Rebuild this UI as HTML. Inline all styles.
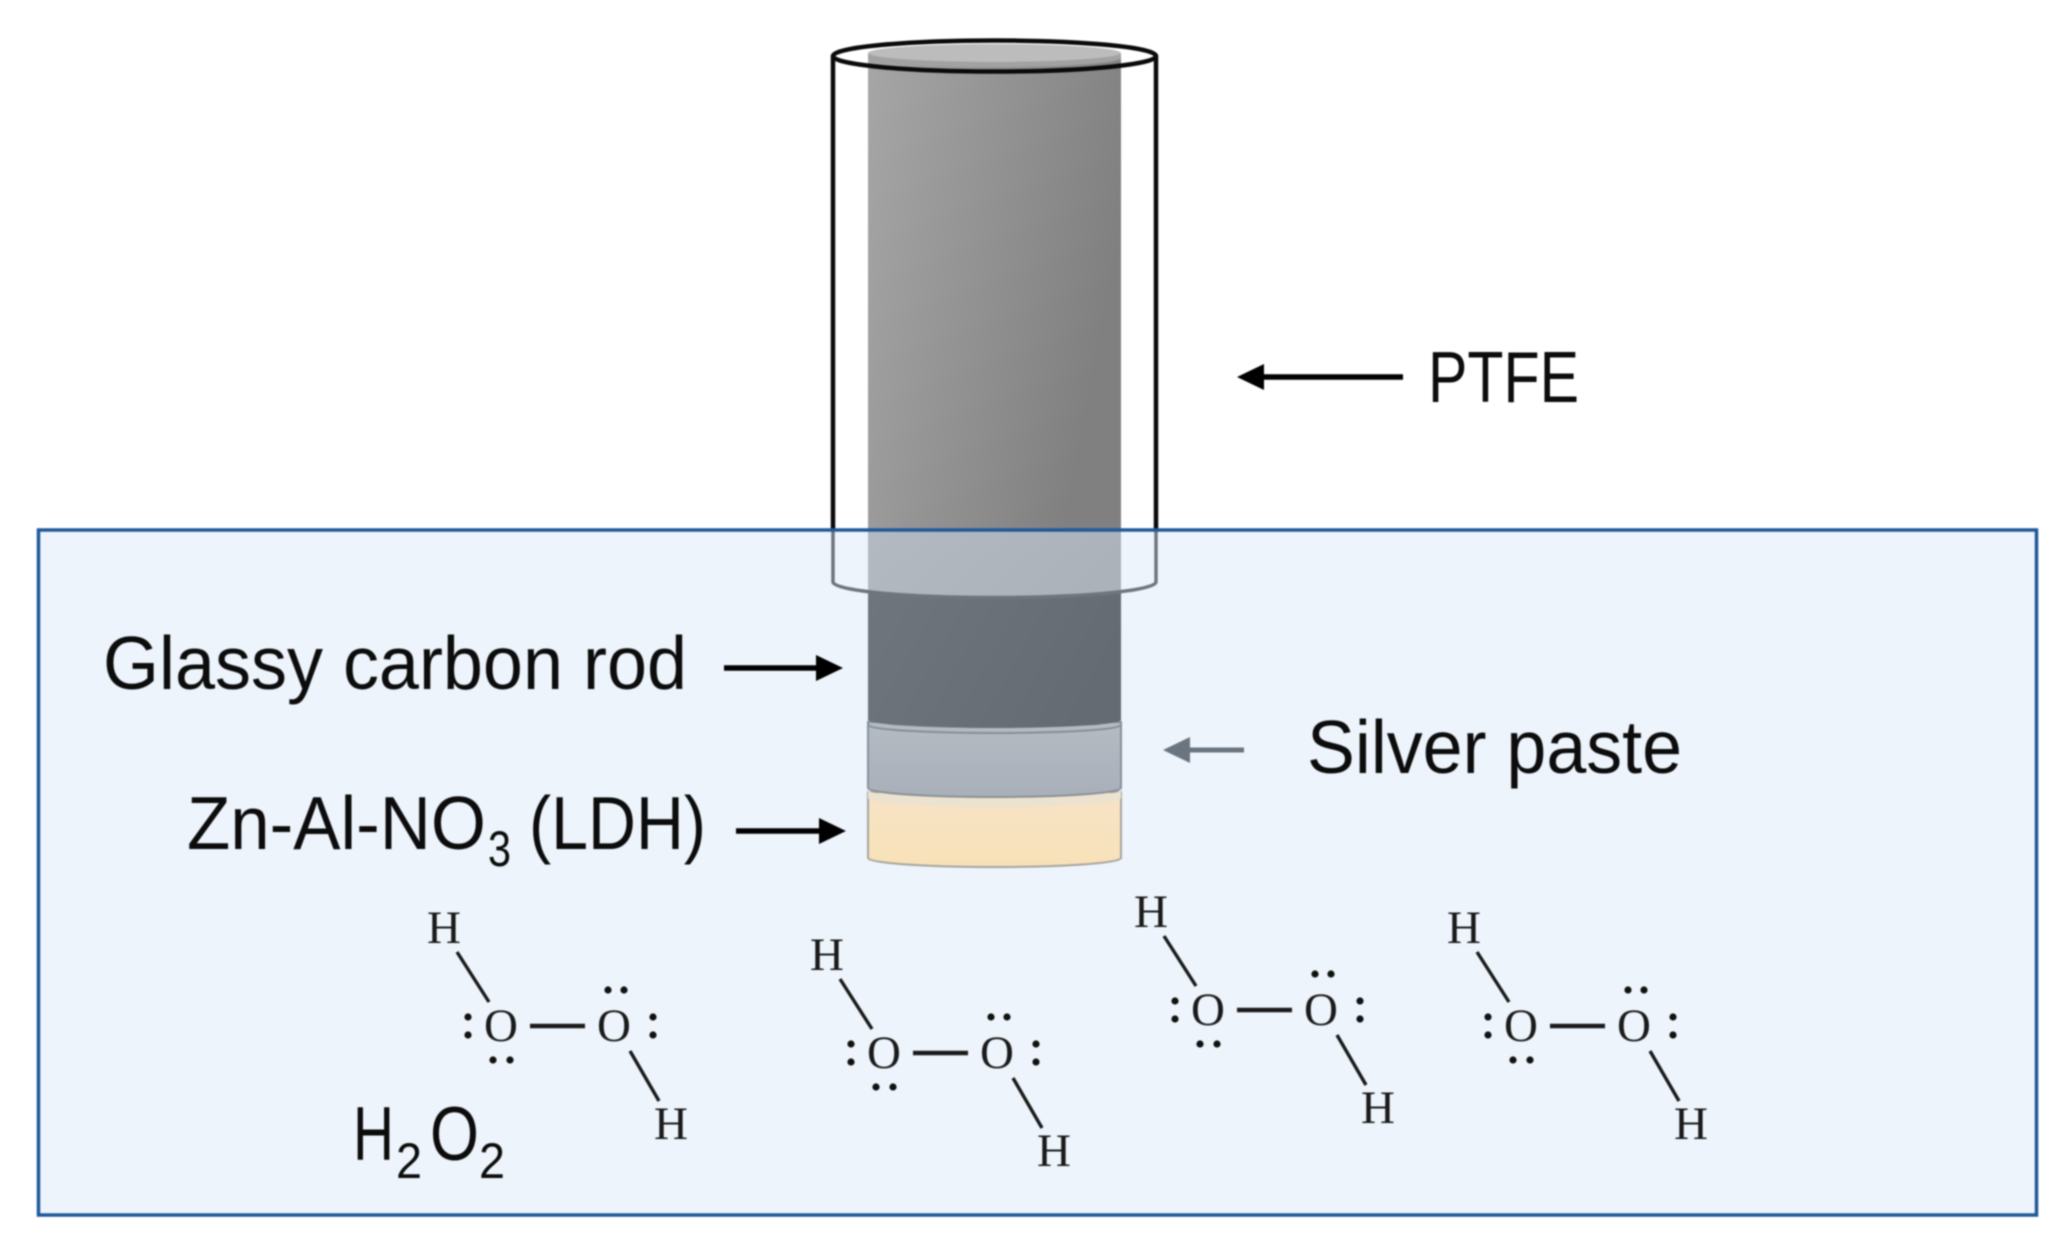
<!DOCTYPE html>
<html lang="en">
<head>
<meta charset="utf-8">
<title>Electrode diagram</title>
<style>
html,body{margin:0;padding:0;background:#fff;width:2068px;height:1244px;overflow:hidden}
svg{display:block}
.s{font-family:"Liberation Sans",sans-serif;fill:#0c0c0c}
.m{font-family:"Liberation Serif",serif;font-size:47px;fill:#1a1a1a;text-anchor:middle}
.b{stroke:#1a1a1a;stroke-width:3.4;fill:none}
.oo{stroke:#1a1a1a;stroke-width:4.4;fill:none}
.d{fill:#111}
</style>
</head>
<body>
<svg width="2068" height="1244" viewBox="0 0 2068 1244" xmlns="http://www.w3.org/2000/svg">
<defs>
<filter id="blur" x="0" y="0" width="100%" height="100%" color-interpolation-filters="sRGB"><feGaussianBlur stdDeviation="0.85"/></filter>
<linearGradient id="rod" x1="0" y1="0" x2="1" y2="0.35"><stop offset="0" stop-color="#a6a6a6"/><stop offset="1" stop-color="#808080"/></linearGradient>
<linearGradient id="wet" x1="0" y1="0" x2="1" y2="0.3"><stop offset="0" stop-color="#b3b9c0"/><stop offset="1" stop-color="#abb2ba"/></linearGradient>
<linearGradient id="dark" x1="0" y1="0" x2="1" y2="0.3"><stop offset="0" stop-color="#6f757c"/><stop offset="1" stop-color="#656b72"/></linearGradient>
<linearGradient id="silver" x1="0" y1="0" x2="0" y2="1"><stop offset="0" stop-color="#b4bbc3"/><stop offset="1" stop-color="#a8afb8"/></linearGradient>
<linearGradient id="cream" x1="0" y1="0" x2="0" y2="1"><stop offset="0" stop-color="#f6e3c6"/><stop offset="1" stop-color="#f8e1b8"/></linearGradient>
</defs>
<g filter="url(#blur)">
<rect width="2068" height="1244" fill="#fff"/>

<!-- dry section of the rod -->
<rect x="868" y="53" width="253" height="478" fill="url(#rod)"/>
<ellipse cx="994.5" cy="53" rx="126.5" ry="9" fill="#bcbcbc"/>
<path d="M868,53 A126.5,9 0 0 0 1121,53 L1121,58 A126.5,9 0 0 1 868,58 Z" fill="#a2a2a2"/>

<!-- solution -->
<rect x="38.5" y="530" width="1998" height="685" fill="#edf4fb"/>

<!-- wet layers of the electrode -->
<path d="M868,792 L1121,792 L1121,858 A126.5,9 0 0 1 868,858 Z" fill="url(#cream)" stroke="#a6a59f" stroke-width="2"/>
<path d="M868,790 A126.5,9 0 0 0 1121,790 L1121,798 A126.5,9 0 0 1 868,798 Z" fill="#ebe2cf"/>
<path d="M868,722 L868,788 A126.5,9 0 0 0 1121,788 L1121,722 Z" fill="url(#silver)" stroke="#87919c" stroke-width="2"/>
<path d="M868,590 L868,720 A126.5,8 0 0 0 1121,720 L1121,590 Z" fill="url(#dark)"/>
<path d="M868,725 A126.5,8 0 0 0 1121,725" fill="none" stroke="#858f99" stroke-width="2"/>
<path d="M868,530 L868,591.5 A161.5,15.5 0 0 0 1121,591.5 L1121,530 Z" fill="url(#wet)"/>

<!-- PTFE sleeve -->
<path d="M833,530 L833,582 A161.5,15.5 0 0 0 1156,582 L1156,530" fill="none" stroke="#6d7680" stroke-width="3.5"/>
<path d="M833,56 L833,530 M1156,56 L1156,530" fill="none" stroke="#0a0a0a" stroke-width="4.5"/>
<ellipse cx="994.5" cy="56" rx="161.5" ry="15.5" fill="none" stroke="#0a0a0a" stroke-width="4.5"/>

<!-- solution border -->
<rect x="38.5" y="530" width="1998" height="685" fill="none" stroke="#21599b" stroke-width="3.5"/>

<!-- arrows -->
<path d="M1403,377 L1260,377" stroke="#000" stroke-width="5.5" fill="none"/>
<path d="M1237,377 L1264,364 L1264,390 Z" fill="#000"/>
<path d="M724,668 L820,668" stroke="#000" stroke-width="5.5" fill="none"/>
<path d="M843,668 L816,655 L816,681 Z" fill="#000"/>
<path d="M736,831 L822,831" stroke="#000" stroke-width="5.5" fill="none"/>
<path d="M846,831 L819,818 L819,844 Z" fill="#000"/>
<path d="M1244,750 L1186,750" stroke="#6b7580" stroke-width="5" fill="none"/>
<path d="M1163,750 L1190,737 L1190,763 Z" fill="#6b7580"/>

<!-- labels -->
<text class="s" x="1428" y="402" font-size="72" textLength="151" lengthAdjust="spacingAndGlyphs">PTFE</text>
<text class="s" x="103" y="689" font-size="75" textLength="584" lengthAdjust="spacingAndGlyphs">Glassy carbon rod</text>
<text class="s" x="1307" y="773" font-size="75" textLength="375" lengthAdjust="spacingAndGlyphs">Silver paste</text>
<text class="s" x="187" y="849" font-size="75" textLength="299" lengthAdjust="spacingAndGlyphs">Zn-Al-NO</text>
<text class="s" x="488" y="866" font-size="50" textLength="23" lengthAdjust="spacingAndGlyphs">3</text>
<text class="s" x="529" y="849" font-size="75" textLength="177" lengthAdjust="spacingAndGlyphs">(LDH)</text>
<text class="s" x="353" y="1160" font-size="76" textLength="41" lengthAdjust="spacingAndGlyphs">H</text>
<text class="s" x="396" y="1178" font-size="50" textLength="26" lengthAdjust="spacingAndGlyphs">2</text>
<text class="s" x="430" y="1160" font-size="76" textLength="49" lengthAdjust="spacingAndGlyphs">O</text>
<text class="s" x="479" y="1178" font-size="50" textLength="26" lengthAdjust="spacingAndGlyphs">2</text>

<!-- molecule 1 -->
<g transform="translate(501,1026)">
<text class="m" x="-57" y="-83">H</text><text class="m" x="0" y="15">O</text><text class="m" x="113" y="15">O</text><text class="m" x="170" y="113">H</text>
<path class="b" d="M-44,-74 L-12,-24 M129,25 L158,75"/><path class="oo" d="M29,0 L84,0"/>
<circle class="d" cx="-33" cy="-9" r="3.6"/><circle class="d" cx="-33" cy="9" r="3.6"/><circle class="d" cx="-8" cy="34" r="3.6"/><circle class="d" cx="9" cy="34" r="3.6"/><circle class="d" cx="107" cy="-36" r="3.6"/><circle class="d" cx="123" cy="-36" r="3.6"/><circle class="d" cx="152" cy="-9" r="3.6"/><circle class="d" cx="152" cy="9" r="3.6"/>
</g>
<!-- molecule 2 -->
<g transform="translate(884,1053)">
<text class="m" x="-57" y="-83">H</text><text class="m" x="0" y="15">O</text><text class="m" x="113" y="15">O</text><text class="m" x="170" y="113">H</text>
<path class="b" d="M-44,-74 L-12,-24 M129,25 L158,75"/><path class="oo" d="M29,0 L84,0"/>
<circle class="d" cx="-33" cy="-9" r="3.6"/><circle class="d" cx="-33" cy="9" r="3.6"/><circle class="d" cx="-8" cy="34" r="3.6"/><circle class="d" cx="9" cy="34" r="3.6"/><circle class="d" cx="107" cy="-36" r="3.6"/><circle class="d" cx="123" cy="-36" r="3.6"/><circle class="d" cx="152" cy="-9" r="3.6"/><circle class="d" cx="152" cy="9" r="3.6"/>
</g>
<!-- molecule 3 -->
<g transform="translate(1208,1010)">
<text class="m" x="-57" y="-83">H</text><text class="m" x="0" y="15">O</text><text class="m" x="113" y="15">O</text><text class="m" x="170" y="113">H</text>
<path class="b" d="M-44,-74 L-12,-24 M129,25 L158,75"/><path class="oo" d="M29,0 L84,0"/>
<circle class="d" cx="-33" cy="-9" r="3.6"/><circle class="d" cx="-33" cy="9" r="3.6"/><circle class="d" cx="-8" cy="34" r="3.6"/><circle class="d" cx="9" cy="34" r="3.6"/><circle class="d" cx="107" cy="-36" r="3.6"/><circle class="d" cx="123" cy="-36" r="3.6"/><circle class="d" cx="152" cy="-9" r="3.6"/><circle class="d" cx="152" cy="9" r="3.6"/>
</g>
<!-- molecule 4 -->
<g transform="translate(1521,1026)">
<text class="m" x="-57" y="-83">H</text><text class="m" x="0" y="15">O</text><text class="m" x="113" y="15">O</text><text class="m" x="170" y="113">H</text>
<path class="b" d="M-44,-74 L-12,-24 M129,25 L158,75"/><path class="oo" d="M29,0 L84,0"/>
<circle class="d" cx="-33" cy="-9" r="3.6"/><circle class="d" cx="-33" cy="9" r="3.6"/><circle class="d" cx="-8" cy="34" r="3.6"/><circle class="d" cx="9" cy="34" r="3.6"/><circle class="d" cx="107" cy="-36" r="3.6"/><circle class="d" cx="123" cy="-36" r="3.6"/><circle class="d" cx="152" cy="-9" r="3.6"/><circle class="d" cx="152" cy="9" r="3.6"/>
</g>
</g>
</svg>
</body>
</html>
